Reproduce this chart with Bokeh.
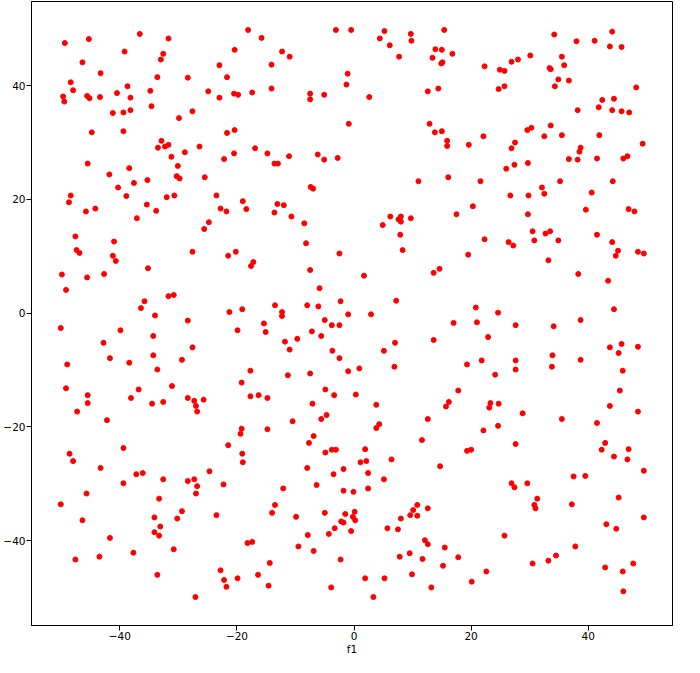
from bokeh.plotting import figure
from bokeh.models import Range1d, FixedTicker, ColumnDataSource
from bokeh.embed import file_html
from bokeh.resources import INLINE

# f1 (x) and f2 (y) values, grouped by region
f1 = [
    -49.4, -45.3, -36.6, -31.7, -39.2, -32.6, -33.0, -20.4, -46.4, -43.3, -23.0, -33.6, -28.4, -21.7, -48.4, -38.7,
    -48.0, -49.7, -49.5, -45.6, -45.2, -43.4, -40.5, -38.2, -34.8, -24.9, -23.0, -20.5, -19.8, -34.6, -41.2, -39.4,
    -38.2, -27.6, -29.9, -44.8, -39.4, -21.7, -20.4, -32.9, -33.5, -32.3, -31.7, -26.4, -28.9, -31.2, -20.5, -22.2,
    -18.1, -15.8, -3.1, -0.5, 5.2, 4.4, 9.7, 9.8, 15.4, -12.3, -11.0, 6.1, 7.7, 13.9, 15.0, 16.8, 13.4, 14.9, 15.1,
    -14.1, -1.1, -1.3, -17.4, -14.1, -7.5, -7.5, -5.1, 2.6, 12.6, 14.4, -0.9, 12.9, 13.8, 15.0, 15.9, 15.9, -16.9,
    -14.8, -11.1, -6.2, -5.1, -2.8,
    34.2, 44.1, 38.0, 41.1, 43.7, 45.7, 22.3, 24.9, 25.7, 26.9, 28.0, 30.1, 35.5, 35.9, 33.4, 33.6, 34.9, 36.7, 34.3,
    24.7, 25.7, 48.2, 42.4, 44.4, 38.2, 41.8, 44.1, 45.7, 47.0, 19.6, 22.1, 29.6, 30.3, 33.6, 32.5, 35.5, 41.9, 49.3,
    27.5, 26.9, 38.7, 38.5, 36.7, 38.2, 41.5, 46.0, 46.7,
    -45.5, -30.1, -41.8, -38.4, -37.6, -35.3, -30.3, -29.8, -25.5, -40.3, -48.4, -48.7, -38.9, -32.0, -30.7, -23.5,
    -19.0, -35.4, -45.8, -44.2, -33.8, -22.8, -21.8, -37.1, -24.8, -25.6, -47.6, -41.0, -47.4, -46.9, -41.2, -40.7,
    -27.6, -21.5, -20.2, -35.2, -49.9, -45.6, -42.7, -49.2, -31.7, -30.8, -35.8, -36.4, -34.0, -21.3, -19.1,
    -13.6, -13.0, 11.0, 16.1, -7.4, -7.0, -18.4, -13.1, -12.0, -13.6, -10.7, -8.5, 6.2, 8.0, 7.6, 8.0, 9.7, 4.9, 17.5,
    7.9, -8.2, 8.3, -2.5, -17.2, -17.6, -7.5, 13.6, 14.6, 1.7, -5.9, -13.5, -8.0, -6.1, -2.3, 7.2, -12.3, -12.3, -1.0, 2.9,
    26.0, 27.4, 29.7, 21.6, 35.2, 44.2, 32.1, 32.5, 26.7, 29.8, 40.6, 20.3, 29.7, 39.6, 46.9, 47.9, 30.5, 32.7, 33.5,
    22.3, 30.8, 34.9, 26.4, 27.2, 41.5, 44.1, 45.1, 44.7, 48.5, 49.5, 19.5, 33.2, 38.3, 43.4, 20.8, 24.6, 44.4,
    -28.4, -50.1, -39.9, -19.9, -42.8, -34.3, -27.6, -34.3, -41.7, -29.4, -49.0, -38.4, -33.6, -49.2, -31.1, -19.2,
    -45.5, -45.5, -36.8, -38.1, -34.5, -32.6, -28.4, -27.3, -27.0, -26.8, -25.7, -47.3, -42.2, -19.2, -19.4, -21.5,
    -39.4, -48.6, -48.0, -43.3, -19.1, -19.0, -24.7, -37.2, -36.1,
    -5.0, -15.4, -15.1, -3.8, -2.5, 17.0, -7.2, -5.6, -11.8, -9.7, -11.0, -3.7, -2.5, 5.1, 7.0, 13.6, -17.7, -11.3,
    -7.5, -1.0, 0.9, 6.9, -17.7, -16.3, -14.8, -4.9, -3.4, 0.3, -7.1, 3.8, 17.8, 16.2, 15.7, -10.5, -5.6, -4.7, 4.3,
    3.8, 12.6, -14.8, -6.9, -7.7, 11.6, -4.9, -3.8, -3.1, 1.9, 1.1, 2.1, 6.4, 14.7, -8.0, -1.8, -3.5, 2.4,
    21.0, 27.6, 34.1, 38.7, 22.9, 43.7, 45.7, 48.5, 45.2, 19.3, 21.8, 27.6, 27.6, 33.9, 33.8, 38.7, 24.1, 45.9, 45.4,
    23.3, 23.1, 24.7, 43.7, 48.5, 28.8, 35.5, 41.5, 22.1, 24.6, 27.6, 19.3, 20.0, 42.9, 42.3, 46.9, 44.4, 46.7, 49.5,
    -39.4, -32.6, -28.4, -27.3, -26.8, -27.0, -22.3, -45.7, -50.1, -33.3, -29.4, -23.5, -46.4, -34.1, -30.2, -33.1,
    -34.1, -33.3, -41.7, -30.8, -37.7, -43.5, -47.6, -33.6, -22.8, -22.2, -21.8, -19.9, -27.1,
    5.1, -12.1, -6.4, -1.8, -0.1, 2.4, -13.5, -14.0, -9.9, -5.0, -1.5, 0.1, -0.2, 0.2, -2.2, -1.8, -3.3, -4.3, -0.5,
    -7.9, -18.2, -17.4, -9.5, -6.9, -14.4, -2.3, -16.4, -14.6, -3.9, 1.9, 5.2, 3.3, 5.7, 7.5, 8.0, 9.6, 10.1, 10.8,
    10.8, 12.6, 12.1, 12.6, 15.5, 17.8, 7.8, 9.5, 11.7, 15.2, 9.9, 13.2,
    26.9, 27.4, 29.6, 37.5, 39.5, 31.3, 30.8, 31.0, 37.2, 45.2, 49.5, 43.1, 44.8, 25.7, 37.8, 30.5, 33.2, 34.5, 42.9,
    45.9, 47.7, 46.0, 22.6, 20.1,
]

f2 = [
    47.5, 48.2, 49.1, 48.3, 46.0, 45.6, 44.6, 46.3, 44.1, 42.2, 43.6, 41.5, 41.4, 41.5, 40.6, 39.9,
    39.2, 38.1, 37.2, 38.2, 37.8, 38.0, 38.7, 37.9, 39.1, 39.0, 37.9, 38.6, 38.4, 36.4, 35.2, 35.3,
    35.7, 35.5, 34.3, 31.8, 32.0, 31.7, 32.2, 30.3, 29.1, 29.3, 29.6, 29.3, 28.3, 27.5, 28.1, 27.1,
    49.8, 48.4, 49.8, 49.8, 49.6, 48.3, 49.1, 47.9, 49.8, 46.0, 45.1, 47.1, 45.1, 46.4, 46.3, 45.6, 44.9, 43.9, 44.1,
    43.7, 42.1, 40.2, 38.8, 39.5, 38.6, 37.6, 38.4, 38.0, 39.0, 39.5, 33.3, 33.3, 31.8, 32.0, 30.3, 29.4, 29.0,
    28.1, 27.6, 27.9, 27.0, 27.3,
    49.0, 49.5, 47.8, 47.9, 46.9, 46.8, 43.4, 42.8, 42.6, 44.2, 44.6, 45.3, 45.1, 43.6, 43.1, 42.9, 41.1, 40.9, 39.9,
    39.4, 39.9, 39.7, 37.5, 37.7, 35.7, 36.2, 35.7, 35.5, 35.3, 29.6, 31.1, 32.2, 32.6, 33.0, 31.1, 31.3, 31.3, 29.8,
    30.0, 29.0, 29.1, 28.4, 27.1, 27.0, 27.2, 27.2, 27.6,
    26.3, 25.9, 24.4, 25.5, 22.9, 23.4, 24.1, 23.7, 23.9, 22.1, 20.7, 19.5, 20.6, 20.4, 20.7, 20.7,
    19.7, 19.1, 17.9, 18.4, 18.0, 18.4, 17.9, 16.7, 16.0, 14.8, 13.5, 12.6, 11.1, 10.6, 10.1, 9.2,
    10.8, 10.1, 10.8, 7.9, 6.8, 6.3, 6.9, 4.1, 3.0, 3.2, 2.1, 0.9, -0.4, 0.2, 0.7,
    26.3, 26.3, 23.2, 23.9, 22.2, 21.9, 18.3, 19.2, 19.0, 17.7, 17.0, 15.8, 17.0, 17.0, 16.5, 16.1, 16.7, 15.5, 17.4,
    13.8, 12.3, 11.1, 10.5, 9.0, 8.3, 7.6, 7.1, 7.8, 6.6, 4.4, 1.4, 1.4, 1.2, 2.1, 2.2, 0.2, -0.5, -0.2, -0.2,
    25.4, 26.1, 26.4, 23.2, 23.2, 23.2, 22.1, 21.0, 20.7, 20.7, 21.2, 18.8, 17.4, 18.2, 18.3, 17.9, 14.4, 14.0, 14.4,
    13.0, 12.8, 12.8, 12.5, 11.9, 13.8, 12.5, 11.0, 10.1, 10.8, 10.5, 10.3, 9.3, 6.9, 5.7, 1.0, 0.1, 0.7,
    -1.3, -2.6, -3.0, -3.0, -5.2, -4.0, -6.0, -7.4, -7.9, -8.2, -9.0, -8.7, -9.9, -13.2, -12.8, -12.2,
    -14.4, -15.8, -13.4, -14.9, -15.9, -15.6, -14.9, -15.4, -16.3, -17.3, -15.2, -17.3, -18.8, -20.3, -21.2, -23.2,
    -23.7, -24.7, -26.0, -27.2, -24.7, -26.2, -27.8, -28.3, -28.1,
    -1.2, -1.8, -3.3, -2.1, -2.1, -1.7, -3.2, -4.0, -5.0, -4.5, -6.4, -6.6, -7.9, -6.6, -5.2, -4.7, -10.1, -10.9,
    -10.6, -10.2, -9.7, -9.4, -14.6, -14.4, -14.9, -13.4, -14.4, -14.3, -15.9, -16.1, -13.6, -15.6, -16.4, -19.0, -18.6, -17.9, -19.5,
    -20.2, -18.6, -20.4, -21.6, -22.8, -22.3, -24.5, -24.0, -24.0, -23.9, -26.2, -26.0, -25.7, -26.9, -27.2, -27.4, -28.3, -28.1,
    -1.6, -2.1, -2.3, -1.2, -4.2, -6.0, -5.4, -5.9, -7.0, -9.0, -8.3, -8.3, -9.9, -7.4, -9.4, -8.2, -10.8, -10.1, -13.6,
    -15.8, -16.6, -15.9, -16.3, -17.3, -17.6, -18.6, -19.3, -20.6, -19.8, -23.0, -24.2, -24.0, -22.8, -24.0, -23.9, -25.2, -25.7, -27.7,
    -29.9, -29.2, -29.5, -29.2, -30.4, -31.7, -30.1, -31.7, -33.6, -32.6, -34.8, -35.5, -36.4, -35.9, -36.1, -37.5,
    -38.5, -39.1, -39.5, -41.5, -42.1, -42.8, -43.3, -46.0, -45.2, -46.9, -48.1, -46.6, -49.9,
    -29.2, -30.8, -30.2, -31.2, -31.4, -30.8, -33.7, -35.1, -35.8, -35.1, -35.3, -34.9, -35.8, -36.4, -36.6, -36.8, -37.8, -38.8, -38.3,
    -39.0, -40.4, -40.2, -41.0, -41.8, -43.9, -43.3, -46.0, -47.9, -48.2, -46.6, -46.6, -49.9, -37.8, -38.0, -36.1, -35.5, -34.6, -33.7,
    -35.6, -34.3, -39.9, -40.6, -41.2, -42.9, -42.8, -42.2, -43.2, -44.4, -45.9, -48.2,
    -29.9, -30.6, -29.9, -28.7, -28.6, -32.6, -33.7, -34.3, -33.6, -32.4, -35.9, -37.1, -37.9, -39.1, -41.0, -44.0, -43.5, -42.6, -44.7,
    -45.4, -44.0, -48.9, -45.4, -47.2,
]

ticks = [-40, -20, 0, 20, 40]
tick_labels = {-40: "\u221240", -20: "\u221220", 0: "0", 20: "20", 40: "40"}
x_label = "f1"

n = min(len(f1), len(f2))
src = ColumnDataSource(dict(x=f1[:n], y=f2[:n]))

p = figure(width=684, height=657,
           x_range=Range1d(-55.1, 54.4), y_range=Range1d(-54.9, 54.8),
           output_backend="svg", toolbar_location=None,
           min_border_left=0, min_border_right=12, min_border_top=1, min_border_bottom=0)

p.scatter("x", "y", source=src, size=5, fill_color="red", line_color="red", line_width=1)

p.xgrid.visible = False
p.ygrid.visible = False
p.outline_line_color = "black"
p.outline_line_alpha = 1
p.outline_line_width = 1
p.background_fill_color = "white"
p.border_fill_color = "white"

for ax in (p.xaxis[0], p.yaxis[0]):
    ax.ticker = FixedTicker(ticks=ticks)
    ax.major_label_overrides = tick_labels
    ax.minor_tick_line_color = None
    ax.major_tick_out = 5
    ax.major_tick_in = 0
    ax.major_tick_line_color = "black"
    ax.axis_line_color = "black"
    ax.major_label_text_font = "DejaVu Sans"
    ax.major_label_text_font_size = "10.5px"
    ax.major_label_text_color = "black"
    ax.major_label_standoff = 1

p.xaxis.axis_label = x_label
p.xaxis.axis_label_text_font = "DejaVu Sans"
p.xaxis.axis_label_text_font_style = "normal"
p.xaxis.axis_label_text_font_size = "10.5px"
p.xaxis.axis_label_text_color = "black"
p.xaxis.axis_label_standoff = 0

open("out.html", "w").write(file_html(p, INLINE))
